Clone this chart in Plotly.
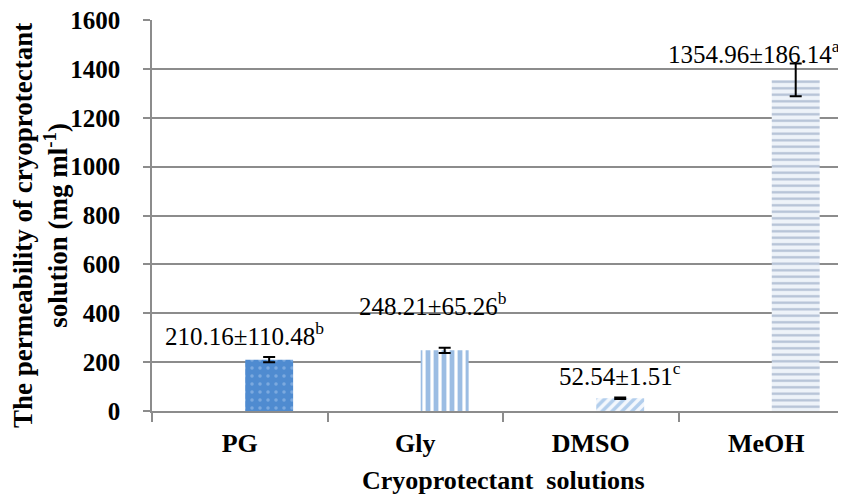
import plotly.graph_objects as go

categories = ["PG", "Gly", "DMSO", "MeOH"]
means = [210.16, 248.21, 52.54, 1354.96]
sds = [110.48, 65.26, 1.51, 186.14]
letters = ["b", "b", "c", "a"]
err_drawn = [11, 11, 3, 67]
y_ticks = [0, 200, 400, 600, 800, 1000, 1200, 1400, 1600]

# label placement (style): left x in category units, center y in data units
label_x = [-0.437, 0.668, 1.808, 2.43]
label_y = [315, 438, 151, 1469]

patterns = [
    dict(shape=".", fgcolor="#a9c8ee", bgcolor="#4f8bd0", size=8, solidity=0.15),
    dict(shape="|", fgcolor="#3a7bc8", bgcolor="#ffffff", size=8, solidity=0.6),
    dict(shape="/", fgcolor="#6fa3dc", bgcolor="#f4f8fd", size=7, solidity=0.5),
    dict(shape="-", fgcolor="#7a90b2", bgcolor="#eef3f9", size=6.5, solidity=0.35),
]
colors = ["#4f8bd0", "#ffffff", "#f4f8fd", "#eef3f9"]

# page body adds an 8px margin; compensate so the plot area lands at 152..846 x 20..411
PAD = 8

fig = go.Figure()
for i, c in enumerate(categories):
    fig.add_trace(go.Bar(
        x=[c], y=[means[i]],
        width=0.273, offset=0.031,
        marker=dict(color=colors[i], pattern=patterns[i], line=dict(width=0)),
        error_y=dict(type="data", array=[err_drawn[i]], color="black", thickness=2, width=6),
        showlegend=False,
    ))

for i in range(len(categories)):
    fig.add_annotation(
        x=label_x[i], y=label_y[i], xref="x", yref="y",
        text=f"{means[i]:.2f}±{sds[i]:.2f}<sup>{letters[i]}</sup>",
        showarrow=False, xanchor="left", yanchor="middle",
        font=dict(family="Liberation Serif", size=25, color="black"),
    )

fig.add_annotation(
    x=(41 - 152) / 694, y=(411 - 226) / 391, xref="paper", yref="paper",
    text="The permeability of cryoprotectant<br>solution (mg ml<sup>-1</sup>)",
    textangle=-90, showarrow=False, xanchor="center", yanchor="middle",
    font=dict(family="Liberation Serif", size=27, color="black", weight="bold"),
)
fig.add_annotation(
    x=(503 - 152) / 694, y=(411 - 480) / 391, xref="paper", yref="paper",
    text="Cryoprotectant&nbsp; solutions",
    showarrow=False, xanchor="center", yanchor="middle",
    font=dict(family="Liberation Serif", size=26, color="black", weight="bold"),
)

fig.update_layout(
    width=846 - PAD, height=498 - PAD,
    margin=dict(l=152 - PAD, r=0, t=20 - PAD, b=87),
    paper_bgcolor="white", plot_bgcolor="white",
    font=dict(family="Liberation Serif", color="black"),
    xaxis=dict(
        categoryorder="array", categoryarray=categories,
        range=[-0.5, 3.454],
        showline=True, linecolor="#8c8c8c", linewidth=1.5,
        ticks="outside", tickson="boundaries", ticklen=9, tickcolor="#8c8c8c", tickwidth=1.5,
        tickfont=dict(size=26, family="Liberation Serif", color="black", weight="bold"),
        ticklabelstandoff=8,
        showgrid=False,
    ),
    yaxis=dict(
        range=[0, 1600], tickvals=y_ticks,
        showline=True, linecolor="#8c8c8c", linewidth=1.5,
        ticks="outside", ticklen=7, tickcolor="#8c8c8c", tickwidth=1.5,
        showgrid=True, gridcolor="#8c8c8c", gridwidth=1.5,
        zeroline=False,
        tickfont=dict(size=25, family="Liberation Serif", color="black", weight="bold"),
        ticklabelstandoff=18,
        ticklabeloverflow="allow",
    ),
)

fig.write_html("out.html")
